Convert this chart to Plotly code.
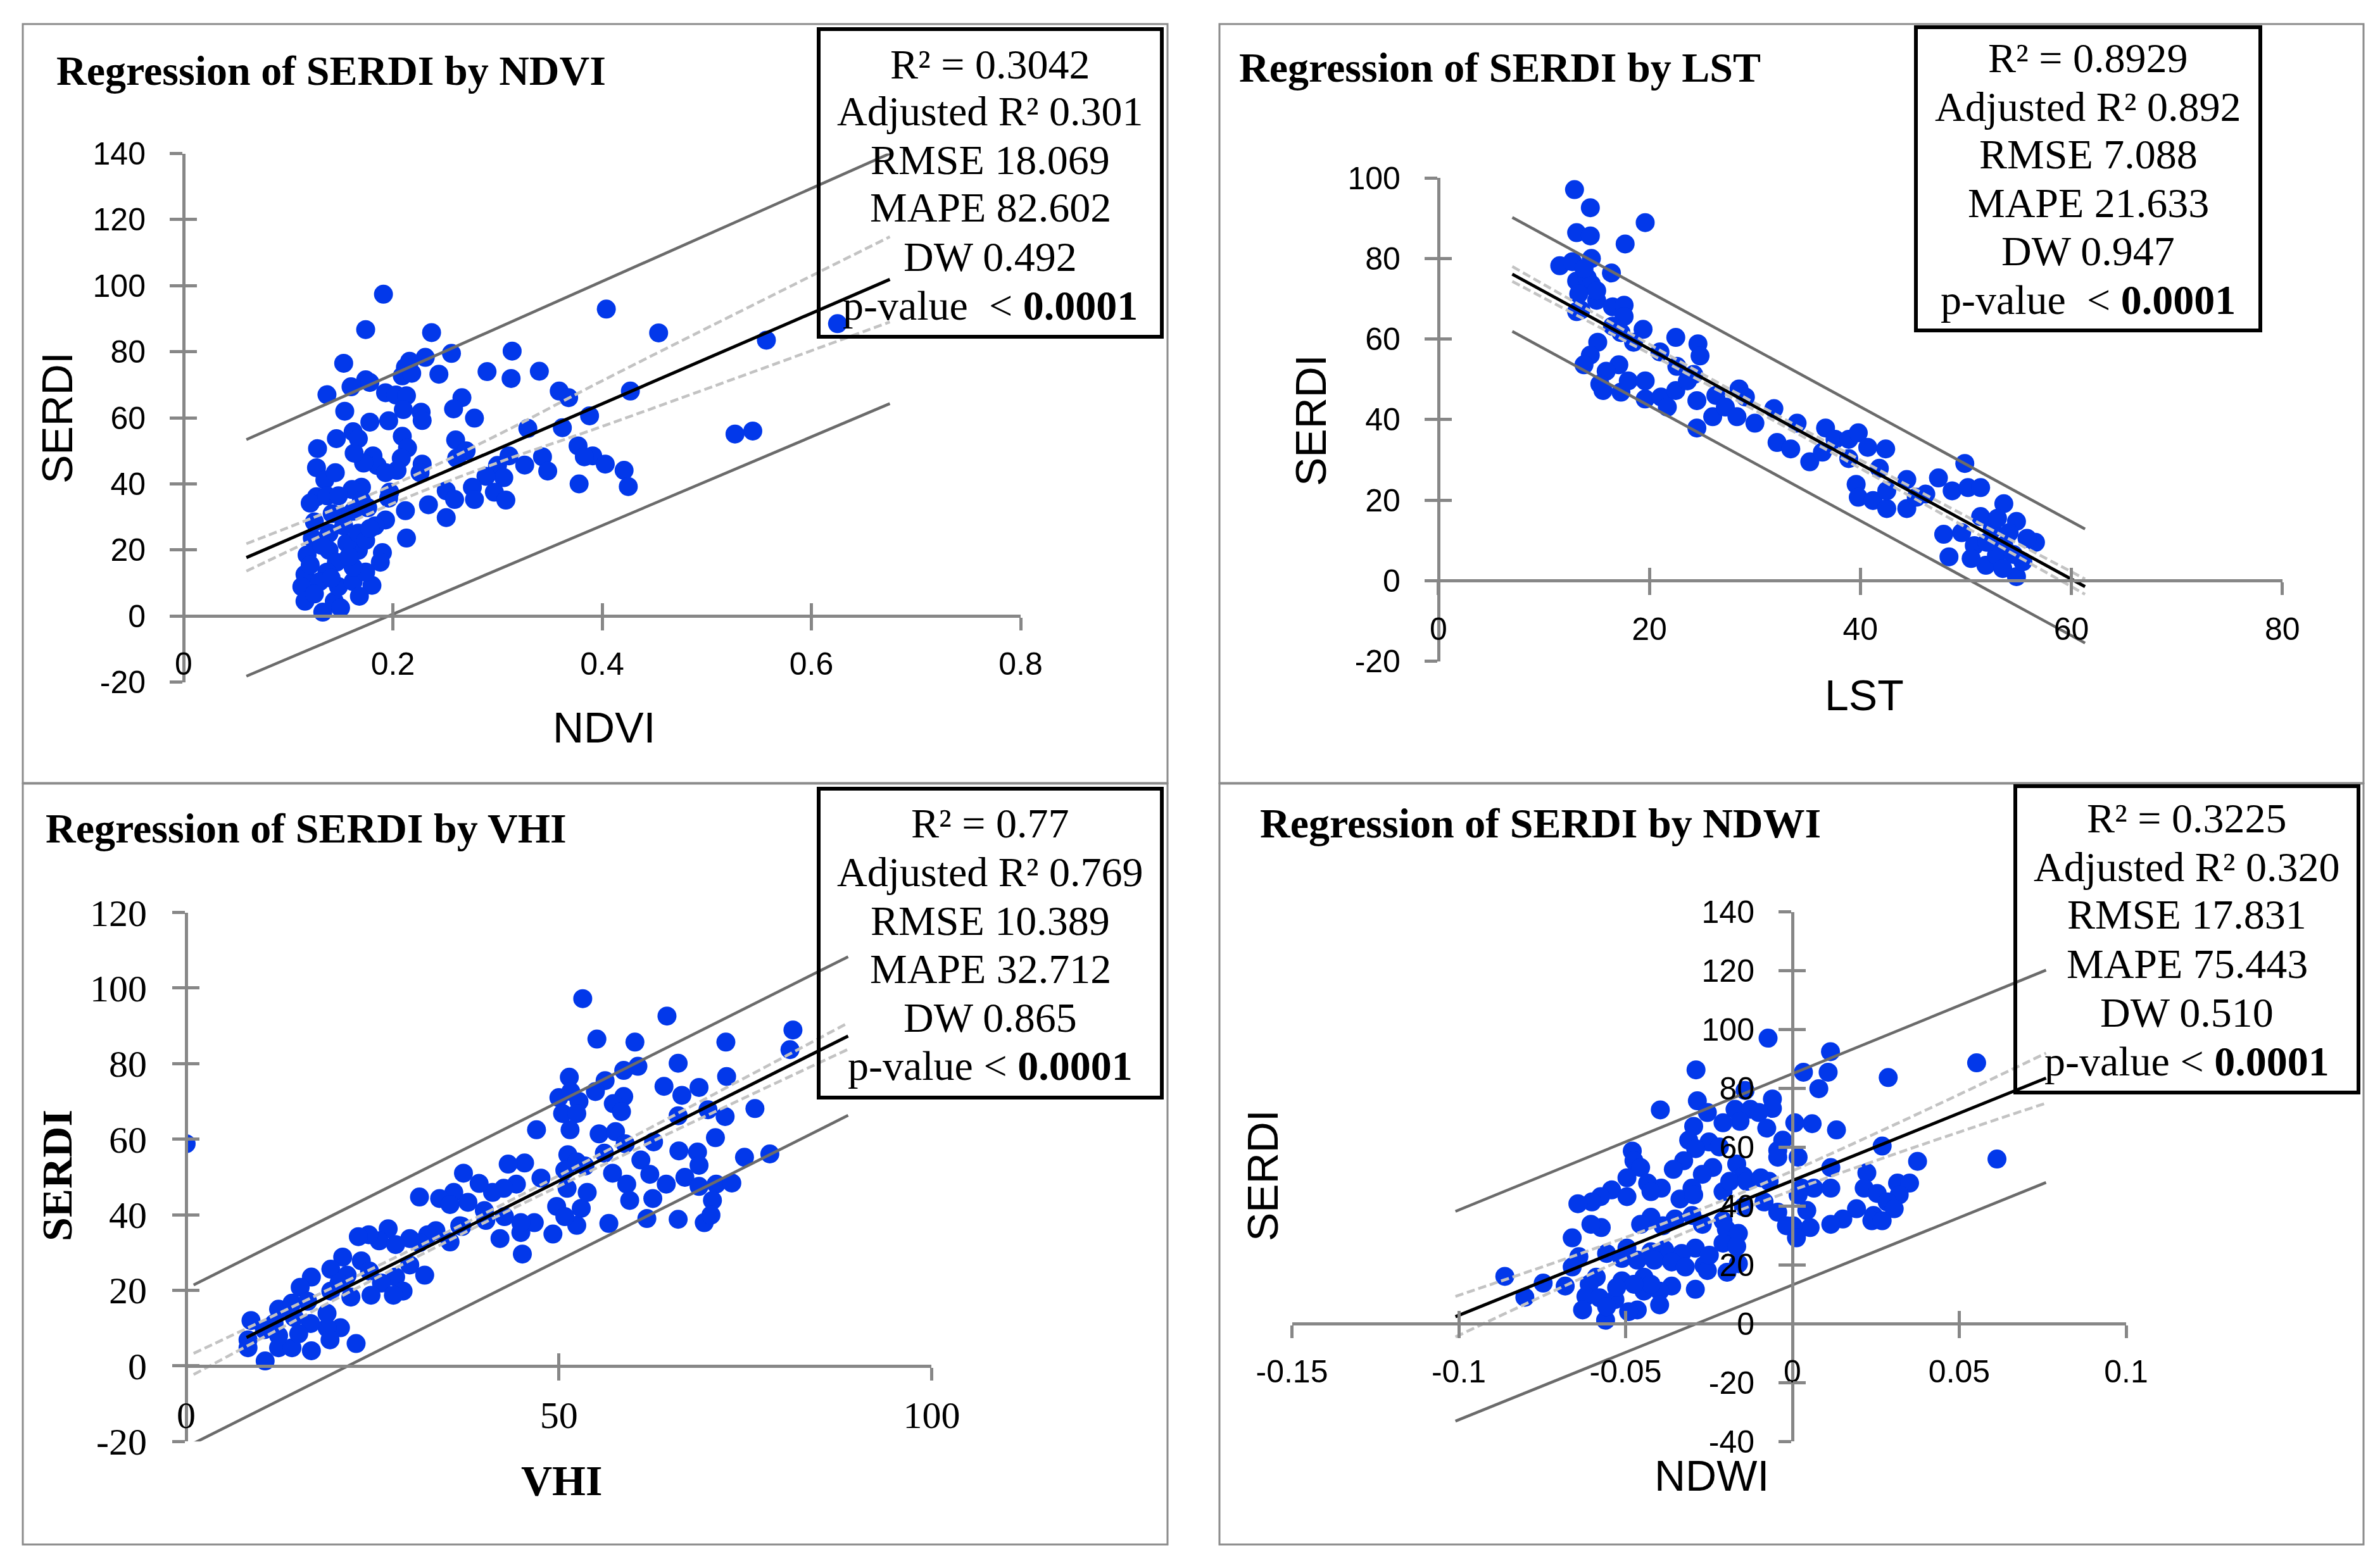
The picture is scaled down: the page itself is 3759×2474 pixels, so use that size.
import plotly.graph_objects as go

W, H = 3759, 2474

# ---- values ----
# SERDI vs NDVI  (x, y)
ndvi_pts = [
    (0.191, 97.4), (0.174, 86.7), (0.237, 85.8), (0.404, 92.9), (0.153, 76.5), (0.256, 79.5),
    (0.231, 78.3), (0.216, 77.1), (0.212, 75.3), (0.209, 72.7), (0.218, 73.5), (0.244, 73.2),
    (0.314, 80.2), (0.290, 74.0), (0.313, 71.9), (0.340, 74.1), (0.137, 67.0), (0.160, 69.4),
    (0.174, 71.5), (0.178, 70.7), (0.193, 67.6), (0.203, 66.9), (0.213, 66.7), (0.210, 62.5),
    (0.227, 61.7), (0.228, 59.2), (0.154, 62.0), (0.178, 58.7), (0.196, 59.1), (0.266, 66.1),
    (0.258, 62.7), (0.278, 59.9), (0.359, 68.1), (0.368, 66.1), (0.427, 68.1), (0.329, 56.8),
    (0.362, 57.0), (0.388, 60.6), (0.162, 55.8), (0.167, 53.7), (0.146, 53.7), (0.128, 50.7),
    (0.209, 54.4), (0.214, 50.9), (0.260, 53.3), (0.270, 50.0), (0.261, 47.8), (0.377, 51.5),
    (0.391, 48.5), (0.383, 48.2), (0.403, 46.0), (0.421, 44.1), (0.425, 39.2), (0.378, 40.0),
    (0.343, 48.2), (0.348, 43.9), (0.326, 45.7), (0.311, 48.5), (0.300, 45.6), (0.306, 41.9),
    (0.289, 42.3), (0.276, 39.0), (0.278, 35.3), (0.297, 37.5), (0.308, 35.1), (0.251, 37.9),
    (0.259, 35.3), (0.234, 33.7), (0.251, 29.8), (0.212, 31.9), (0.213, 23.6), (0.228, 46.0),
    (0.226, 43.4), (0.208, 47.8), (0.204, 44.1), (0.197, 37.5), (0.196, 35.7), (0.181, 48.5),
    (0.185, 45.6), (0.193, 43.4), (0.172, 46.3), (0.163, 49.3), (0.127, 44.9), (0.135, 41.2),
    (0.145, 43.4), (0.170, 39.0), (0.161, 38.3), (0.127, 36.1), (0.121, 34.2), (0.137, 36.4),
    (0.148, 36.4), (0.176, 32.8), (0.193, 29.1), (0.183, 27.3), (0.190, 19.2), (0.188, 16.3),
    (0.180, 9.3), (0.167, 19.9), (0.156, 22.1), (0.123, 23.6), (0.118, 18.5), (0.139, 19.9),
    (0.146, 16.3), (0.137, 13.3), (0.116, 12.6), (0.113, 8.9), (0.116, 4.5), (0.133, 1.2),
    (0.144, 4.5), (0.148, 8.9), (0.162, 10.4), (0.174, 13.3), (0.162, 14.8), (0.130, 10.4),
    (0.125, 6.7), (0.153, 27.3), (0.167, 25.1), (0.174, 22.9), (0.139, 25.1), (0.132, 21.4),
    (0.162, 31.7), (0.153, 30.2), (0.125, 28.5), (0.142, 31.0), (0.170, 35.0), (0.158, 18.0),
    (0.168, 6.0), (0.141, 11.5), (0.178, 26.5), (0.121, 15.5), (0.150, 2.5),
    (0.454, 85.7), (0.527, 55.1), (0.544, 56.0), (0.557, 83.5), (0.625, 88.5),
]

# SERDI vs LST
lst_pts = [
    (12.9, 97.1), (14.4, 92.6), (13.1, 86.4), (14.4, 85.6), (19.6, 88.9), (17.7, 83.6),
    (14.5, 80.0), (11.5, 78.2), (12.7, 79.2), (16.4, 76.4), (13.1, 74.4), (14.1, 75.2),
    (14.5, 73.6), (13.3, 71.2), (15.0, 69.6), (13.5, 67.2), (13.1, 66.8), (16.5, 68.0),
    (17.6, 68.4), (17.6, 65.6), (16.5, 63.2), (17.3, 61.6), (19.4, 62.4), (18.5, 59.2),
    (15.1, 59.2), (14.4, 56.0), (13.8, 53.6), (22.5, 60.4), (24.6, 58.8), (24.8, 55.8),
    (21.0, 56.8), (22.6, 53.2), (24.2, 51.2), (17.1, 53.6), (15.9, 52.0), (15.3, 48.8),
    (15.6, 47.2), (17.3, 46.8), (18.0, 49.6), (19.6, 49.6), (19.6, 45.1), (21.1, 45.6),
    (21.7, 43.1), (22.5, 47.2), (23.6, 49.6), (24.5, 44.7), (24.5, 37.9), (26.0, 40.7),
    (26.3, 46.0), (27.2, 43.1), (28.5, 47.6), (29.1, 45.6), (28.3, 40.7), (30.0, 39.1),
    (31.8, 42.7), (32.1, 34.3), (33.4, 32.7), (34.0, 39.1), (35.2, 29.5), (36.4, 31.9),
    (36.7, 37.9), (37.6, 35.1), (38.9, 35.1), (39.8, 36.7), (40.7, 33.1), (38.9, 30.3),
    (42.4, 32.7), (41.8, 27.9), (39.6, 23.9), (39.8, 20.7), (41.2, 19.9), (42.5, 17.9),
    (44.4, 17.9), (42.5, 22.3), (44.4, 25.1), (45.3, 20.7), (47.4, 25.5), (48.7, 22.3),
    (49.9, 29.1), (50.2, 23.1), (51.4, 23.1), (46.2, 21.5), (47.9, 11.5), (48.4, 5.9),
    (49.6, 11.9), (51.4, 15.9), (50.8, 8.7), (51.9, 3.8), (53.6, 19.1), (54.8, 14.7),
    (53.6, 8.7), (54.8, 1.0), (56.6, 9.5), (55.4, 4.7), (52.5, 12.7), (54.1, 11.9),
    (50.5, 5.5), (52.9, 6.3), (53.0, 15.5), (52.0, 9.5), (54.5, 6.5), (53.5, 3.0),
    (55.8, 10.5), (13.8, 77.5), (15.0, 72.0),
]

# SERDI vs VHI
vhi_pts = [
    (0.0, 58.8), (53.2, 97.2), (64.5, 92.6), (55.1, 86.5), (60.2, 85.7), (72.4, 85.7),
    (81.4, 88.9), (81.0, 83.7), (66.0, 80.1), (60.6, 79.3), (58.7, 78.2), (51.4, 76.4),
    (56.2, 75.5), (54.9, 72.6), (64.1, 74.0), (68.8, 73.7), (72.5, 76.6), (66.5, 71.6),
    (50.0, 71.0), (51.6, 72.6), (52.7, 70.0), (58.7, 71.3), (57.3, 69.4), (58.4, 67.3),
    (50.5, 66.8), (52.4, 66.8), (66.0, 66.2), (70.0, 67.8), (72.3, 66.0), (76.3, 68.1),
    (47.0, 62.5), (51.5, 62.5), (55.4, 61.4), (57.6, 62.0), (58.9, 58.8), (62.7, 59.3),
    (71.0, 60.4), (66.1, 56.9), (68.6, 56.6), (74.9, 55.2), (78.3, 56.1), (56.1, 56.3),
    (51.2, 55.9), (52.4, 54.0), (53.5, 52.9), (50.8, 51.8), (61.0, 54.5), (62.2, 50.7),
    (57.2, 51.0), (66.9, 49.9), (68.8, 53.1), (68.8, 47.5), (64.4, 48.1), (59.1, 48.1),
    (59.5, 43.8), (62.6, 44.3), (71.1, 48.1), (73.2, 48.4), (70.6, 43.8), (61.8, 39.0),
    (66.0, 38.8), (69.5, 37.9), (70.4, 39.9), (56.7, 37.7), (52.4, 37.2), (53.0, 41.7),
    (53.8, 45.9), (51.1, 47.0), (47.6, 49.7), (49.2, 34.9), (49.7, 42.2), (50.8, 39.5),
    (45.1, 29.6), (44.9, 35.3), (46.7, 37.9), (45.4, 53.7), (43.2, 53.4), (44.3, 48.1),
    (42.6, 47.0), (41.1, 45.9), (39.3, 48.3), (37.2, 51.0), (35.9, 45.9), (34.0, 44.3),
    (31.3, 44.7), (35.4, 42.7), (37.8, 43.3), (40.0, 41.1), (40.2, 38.5), (42.7, 39.5),
    (42.1, 33.7), (44.9, 37.9), (36.7, 37.1), (35.4, 32.8), (33.5, 35.8), (32.4, 34.7),
    (31.3, 32.6), (30.0, 33.7), (27.1, 36.3), (25.9, 33.1), (24.5, 34.7), (23.1, 34.2),
    (28.1, 32.1), (30.0, 26.7), (32.0, 24.0), (21.0, 28.8), (23.5, 27.8), (19.4, 25.6),
    (21.6, 24.0), (24.6, 25.1), (28.1, 23.5), (26.2, 21.9), (29.1, 19.8), (27.8, 18.7),
    (24.8, 18.7), (22.1, 18.2), (19.4, 19.8), (20.5, 21.9), (16.8, 23.5), (15.3, 20.8),
    (12.4, 15.0), (14.2, 16.6), (16.3, 17.1), (18.9, 13.9), (20.7, 10.1), (18.9, 10.1),
    (16.7, 11.2), (14.5, 12.8), (11.8, 11.2), (8.7, 12.0), (10.5, 9.6), (8.3, 6.9),
    (8.3, 4.8), (12.4, 4.8), (14.2, 4.8), (16.8, 4.0), (19.3, 6.9), (22.8, 5.9),
    (10.6, 1.3), (12.4, 8.0), (15.1, 8.5), (37.0, 36.9),
]

# SERDI vs NDWI
ndwi_pts = [
    (-0.0073, 97.1), (0.0114, 92.5), (0.0552, 88.7), (-0.0289, 86.3), (0.0033, 85.5), (0.0107, 85.5),
    (0.0287, 83.7), (0.0079, 79.9), (-0.0142, 79.3), (-0.0060, 76.4), (-0.0285, 75.8), (-0.0396, 72.7),
    (-0.0172, 72.9), (-0.0126, 72.9), (-0.0060, 73.2), (-0.0255, 71.8), (-0.0101, 71.8), (-0.0157, 68.8),
    (-0.0208, 68.3), (-0.0296, 67.1), (0.0007, 68.3), (0.0059, 68.0), (0.0132, 65.9), (-0.0077, 66.5),
    (-0.0029, 62.4), (-0.0250, 61.8), (-0.0311, 62.4), (-0.0290, 59.5), (-0.0219, 60.1), (-0.0044, 58.9),
    (0.0017, 56.6), (-0.0044, 56.6), (0.0269, 60.4), (0.0613, 56.0), (0.0375, 55.2), (-0.0480, 58.7),
    (-0.0475, 55.4), (-0.0326, 55.4), (-0.0357, 52.5), (-0.0455, 53.1), (-0.0239, 53.1), (-0.0270, 50.8),
    (-0.0167, 54.3), (-0.0147, 50.2), (0.0115, 53.1), (0.0223, 51.3), (-0.0496, 49.6), (-0.0434, 47.8),
    (-0.0393, 46.1), (-0.0542, 45.5), (-0.0575, 43.2), (-0.0601, 41.4), (-0.0643, 40.8), (-0.0496, 43.2),
    (-0.0424, 44.9), (-0.0337, 42.4), (-0.0301, 46.1), (-0.0296, 43.8), (-0.0208, 44.9), (-0.0188, 48.4),
    (-0.0137, 48.4), (-0.0095, 49.6), (-0.0070, 48.4), (-0.0085, 41.4), (-0.0147, 39.7), (-0.0044, 37.9),
    (0.0028, 46.1), (0.0064, 46.1), (0.0017, 43.8), (0.0115, 46.1), (0.0215, 46.1), (0.0254, 44.3),
    (0.0315, 47.8), (0.0351, 47.8), (0.0320, 43.8), (0.0284, 41.4), (0.0192, 39.1), (0.0305, 39.1),
    (0.0243, 36.8), (0.0238, 35.0), (0.0269, 35.0), (0.0151, 35.6), (0.0115, 33.8), (0.0043, 38.5),
    (0.0053, 32.7), (0.0002, 33.3), (-0.0018, 33.3), (0.0012, 29.2), (-0.0301, 36.8), (-0.0270, 33.8),
    (-0.0352, 35.6), (-0.0388, 33.3), (-0.0424, 36.2), (-0.0455, 33.8), (-0.0573, 32.7), (-0.0604, 33.8),
    (-0.0660, 29.2), (-0.0208, 35.0), (-0.0198, 32.1), (-0.0162, 30.7), (-0.0208, 27.4), (-0.0167, 26.3),
    (-0.0291, 25.7), (-0.0332, 23.9), (-0.0383, 25.1), (-0.0424, 24.5), (-0.0496, 25.7), (-0.0557, 23.9),
    (-0.0640, 22.8), (-0.0660, 19.3), (-0.0511, 22.2), (-0.0465, 21.6), (-0.0414, 21.6), (-0.0362, 21.0),
    (-0.0321, 19.3), (-0.0265, 19.8), (-0.0255, 18.1), (-0.0196, 17.5), (-0.0162, 20.4), (-0.0249, 23.3),
    (-0.0291, 11.7), (-0.0362, 12.8), (-0.0398, 11.1), (-0.0398, 6.4), (-0.0445, 11.1), (-0.0465, 4.7),
    (-0.0491, 4.1), (-0.0532, 8.2), (-0.0511, 14.6), (-0.0445, 15.8), (-0.0424, 13.4), (-0.0475, 13.4),
    (-0.0588, 15.8), (-0.0609, 13.4), (-0.0619, 9.3), (-0.0629, 4.7), (-0.0578, 8.8), (-0.0560, 1.2),
    (-0.0557, 5.8), (-0.0527, 12.3), (-0.0681, 12.8), (-0.0747, 13.8), (-0.0802, 9.0), (-0.0862, 16.1),
]

# fitted lines, prediction bands (solid grey) and confidence bands (dashed)
ndvi_fit_x = [0.06, 0.675]
ndvi_fit_y = [17.7, 101.9]
ndvi_pi_hi = [53.4, 140.0]
ndvi_pi_lo = [-18.2, 64.3]
ndvi_ci_x = [0.06, 0.2, 0.3, 0.4, 0.675]
ndvi_ci_hi = [21.9, 39.7, 54.8, 71.2, 114.8]
ndvi_ci_lo = [13.6, 34.1, 46.4, 57.4, 89.0]

lst_fit_x = [7.0, 61.3]
lst_fit_y = [76.1, -1.5]
lst_pi_hi = [90.2, 12.8]
lst_pi_lo = [61.9, -15.5]
lst_ci_x = [7.0, 30.0, 61.3]
lst_ci_hi = [78.0, 44.1, 0.4]
lst_ci_lo = [74.3, 42.3, -3.4]

vhi_fit_x = [8.1, 88.8]
vhi_fit_y = [7.5, 87.3]
vhi_band_x = [1.0, 88.8]
vhi_pi_hi = [21.4, 108.3]
vhi_pi_lo = [-20.5, 66.3]
vhi_ci_x = [1.0, 40.0, 88.8]
vhi_ci_hi = [3.3, 40.3, 90.8]
vhi_ci_lo = [-2.3, 37.9, 83.8]

ndwi_fit_x = [-0.101, 0.076]
ndwi_fit_y = [2.4, 83.5]
ndwi_pi_hi = [38.2, 120.2]
ndwi_pi_lo = [-33.1, 48.0]
ndwi_ci_x = [-0.101, -0.02, 0.076]
ndwi_ci_hi = [9.3, 42.3, 92.0]
ndwi_ci_lo = [-4.5, 36.7, 75.0]

# tick values and labels
ndvi_xt = [0, 0.2, 0.4, 0.6, 0.8]
ndvi_xl = ["0", "0.2", "0.4", "0.6", "0.8"]
ndvi_yt = [-20, 0, 20, 40, 60, 80, 100, 120, 140]
ndvi_yl = ["-20", "0", "20", "40", "60", "80", "100", "120", "140"]
lst_xt = [0, 20, 40, 60, 80]
lst_xl = ["0", "20", "40", "60", "80"]
lst_yt = [-20, 0, 20, 40, 60, 80, 100]
lst_yl = ["-20", "0", "20", "40", "60", "80", "100"]
vhi_xt = [0, 50, 100]
vhi_xl = ["0", "50", "100"]
vhi_yt = [-20, 0, 20, 40, 60, 80, 100, 120]
vhi_yl = ["-20", "0", "20", "40", "60", "80", "100", "120"]
ndwi_xt = [-0.15, -0.1, -0.05, 0, 0.05, 0.1]
ndwi_xl = ["-0.15", "-0.1", "-0.05", "0", "0.05", "0.1"]
ndwi_yt = [-40, -20, 0, 20, 40, 60, 80, 100, 120, 140]
ndwi_yl = ["-40", "-20", "0", "20", "40", "60", "80", "100", "120", "140"]

titles = ["Regression of SERDI by NDVI", "Regression of SERDI by LST",
          "Regression of SERDI by VHI", "Regression of SERDI by NDWI"]
x_titles = ["NDVI", "LST", "<b>VHI</b>", "NDWI"]
y_titles = ["SERDI", "SERDI", "<b>SERDI</b>", "SERDI"]
stats = [
    ["R² = 0.3042", "Adjusted R² 0.301", "RMSE 18.069", "MAPE 82.602", "DW 0.492",
     "p-value\u00a0 < <b>0.0001</b>"],
    ["R² = 0.8929", "Adjusted R² 0.892", "RMSE 7.088", "MAPE 21.633", "DW 0.947",
     "p-value\u00a0 < <b>0.0001</b>"],
    ["R² = 0.77", "Adjusted R² 0.769", "RMSE 10.389", "MAPE 32.712", "DW 0.865",
     "p-value < <b>0.0001</b>"],
    ["R² = 0.3225", "Adjusted R² 0.320", "RMSE 17.831", "MAPE 75.443", "DW 0.510",
     "p-value < <b>0.0001</b>"],
]

# ---- styling ----
BLUE = "#0238EA"
AXIS = "#878787"
PI_COL = "#6b6b6b"
CI_COL = "#c3c3c3"
SANS = "Liberation Sans"
SERIF = "Liberation Serif"


def fx(p):
    return p / W


def fy(p):
    return 1 - p / H


# pixel placement of each panel: x range ends, y range ends (bottom, top)
panels = [
    dict(pts=ndvi_pts, xr=[0, 0.8], yr=[-20, 140], xpx=[290, 1612], ypx=[1077.7, 242.5],
         xt=ndvi_xt, xl=ndvi_xl, yt=ndvi_yt, yl=ndvi_yl,
         fit=(ndvi_fit_x, ndvi_fit_y), band=(ndvi_fit_x, ndvi_pi_hi, ndvi_pi_lo),
         ci=(ndvi_ci_x, ndvi_ci_hi, ndvi_ci_lo), font=SANS, tsize=50, xstand=10,
         border=[36, 38, 1844, 1237], box=[1293, 46, 1835, 532],
         lines_y=[101, 176, 253, 328, 405, 482],
         title_xy=(87, 111), xt_xy=(954, 1149), yt_xy=(90, 660), tfont=SANS),
    dict(pts=lst_pts, xr=[0, 80], yr=[-20, 100], xpx=[2271.9, 3604.7], ypx=[1044.5, 281.1],
         xt=lst_xt, xl=lst_xl, yt=lst_yt, yl=lst_yl,
         fit=(lst_fit_x, lst_fit_y), band=(lst_fit_x, lst_pi_hi, lst_pi_lo),
         ci=(lst_ci_x, lst_ci_hi, lst_ci_lo), font=SANS, tsize=50, xstand=11,
         border=[1926, 38, 3733, 1237], box=[3026, 43, 3570, 522],
         lines_y=[91, 168, 244, 320, 396, 473],
         title_xy=(1955, 107), xt_xy=(2944, 1098), yt_xy=(2070, 664), tfont=SANS),
    dict(pts=vhi_pts, xr=[0, 100], yr=[-20, 120], xpx=[294, 1471.4], ypx=[2277.2, 1441.6],
         xt=vhi_xt, xl=vhi_xl, yt=vhi_yt, yl=vhi_yl,
         fit=(vhi_fit_x, vhi_fit_y), band=(vhi_band_x, vhi_pi_hi, vhi_pi_lo),
         ci=(vhi_ci_x, vhi_ci_hi, vhi_ci_lo), font=SERIF, tsize=60, xstand=3,
         border=[36, 1238, 1844, 2440], box=[1293, 1246, 1835, 1734],
         lines_y=[1300, 1377, 1454, 1530, 1607, 1684],
         title_xy=(70, 1308), xt_xy=(887, 2339), yt_xy=(90, 1857), tfont=SERIF),
    dict(pts=ndwi_pts, xr=[-0.15, 0.1], yr=[-40, 140], xpx=[2040.5, 3358], ypx=[2277.1, 1440.7],
         xt=ndwi_xt, xl=ndwi_xl, yt=ndwi_yt, yl=ndwi_yl,
         fit=(ndwi_fit_x, ndwi_fit_y), band=(ndwi_fit_x, ndwi_pi_hi, ndwi_pi_lo),
         ci=(ndwi_ci_x, ndwi_ci_hi, ndwi_ci_lo), font=SANS, tsize=50, xstand=10,
         border=[1926, 1238, 3733, 2440], box=[3183, 1242, 3725, 1726],
         lines_y=[1292, 1369, 1444, 1522, 1599, 1676],
         title_xy=(1988, 1301), xt_xy=(2703, 2331), yt_xy=(1994, 1857), tfont=SANS),
]

fig = go.Figure()
layout = {}
shapes = []
annotations = []

for i, p in enumerate(panels, start=1):
    xa, ya = f"x{i}", f"y{i}"
    xd = [fx(p["xpx"][0]), fx(p["xpx"][1])]
    yd = [fy(p["ypx"][0]), fy(p["ypx"][1])]
    # axes cross at zero
    xpos = yd[0] + (0 - p["yr"][0]) / (p["yr"][1] - p["yr"][0]) * (yd[1] - yd[0])
    ypos = xd[0] + (0 - p["xr"][0]) / (p["xr"][1] - p["xr"][0]) * (xd[1] - xd[0])
    tf = dict(family=p["font"], size=p["tsize"], color="black")
    common = dict(showgrid=False, zeroline=False, tickmode="array", automargin=False,
                  ticklen=20, tickwidth=5, tickcolor=AXIS)
    layout[f"xaxis{i}"] = dict(domain=xd, range=p["xr"], anchor="free", position=xpos,
                               tickvals=p["xt"], ticktext=p["xl"], ticks="outside",
                               showline=True, linecolor=AXIS, linewidth=5,
                               tickfont=tf, ticklabelstandoff=p["xstand"], **common)
    layout[f"yaxis{i}"] = dict(domain=yd, range=p["yr"], anchor="free", position=ypos,
                               tickvals=p["yt"], ticktext=p["yl"], ticks="outside",
                               showline=True, linecolor=AXIS, linewidth=5,
                               tickfont=tf, ticklabelstandoff=28, **common)
    # second set of ticks pointing the other way, so ticks cross the axis
    j = i + 4
    layout[f"xaxis{j}"] = dict(overlaying=f"x{i}", range=p["xr"], anchor="free", position=xpos,
                               tickvals=p["xt"], ticks="inside", showticklabels=False,
                               showline=False, **common)
    layout[f"yaxis{j}"] = dict(overlaying=f"y{i}", range=p["yr"], anchor="free", position=ypos,
                               tickvals=p["yt"], ticks="inside", showticklabels=False,
                               showline=False, **common)
    fig.add_trace(go.Scatter(x=[], y=[], xaxis=f"x{j}", yaxis=f"y{j}",
                             showlegend=False, hoverinfo="skip"))

    px_, py_ = zip(*p["pts"])
    fig.add_trace(go.Scatter(x=list(px_), y=list(py_), mode="markers", xaxis=xa, yaxis=ya,
                             marker=dict(color=BLUE, size=30, line=dict(width=0)),
                             showlegend=False))
    bx, bhi, blo = p["band"]
    for yy in (bhi, blo):
        fig.add_trace(go.Scatter(x=bx, y=yy, mode="lines", xaxis=xa, yaxis=ya,
                                 line=dict(color=PI_COL, width=4.5), showlegend=False))
    cx, chi, clo = p["ci"]
    for yy in (chi, clo):
        fig.add_trace(go.Scatter(x=cx, y=yy, mode="lines", xaxis=xa, yaxis=ya,
                                 line=dict(color=CI_COL, width=4.5, dash="13px,6px",
                                           shape="spline"),
                                 showlegend=False))
    fx_, fy_ = p["fit"]
    fig.add_trace(go.Scatter(x=fx_, y=fy_, mode="lines", xaxis=xa, yaxis=ya,
                             line=dict(color="black", width=5), showlegend=False))

    # panel frame and statistics box
    b = p["border"]
    shapes.append(dict(type="rect", xref="paper", yref="paper", x0=fx(b[0]), x1=fx(b[2]),
                       y0=fy(b[3]), y1=fy(b[1]), line=dict(color="#8c8c8c", width=3)))
    bb = p["box"]
    shapes.append(dict(type="rect", xref="paper", yref="paper", x0=fx(bb[0]), x1=fx(bb[2]),
                       y0=fy(bb[3]), y1=fy(bb[1]), line=dict(color="black", width=6)))
    cxp = (bb[0] + bb[2]) / 2
    for txt, ly in zip(stats[i - 1], p["lines_y"]):
        annotations.append(dict(text=txt, x=fx(cxp), y=fy(ly), xref="paper", yref="paper",
                                xanchor="center", yanchor="middle", showarrow=False,
                                font=dict(family=SERIF, size=66, color="black")))
    tx, ty = p["title_xy"]
    annotations.append(dict(text=f"<b>{titles[i - 1]}</b>", x=fx(tx), y=fy(ty),
                            xref="paper", yref="paper", xanchor="left", yanchor="middle",
                            showarrow=False, font=dict(family=SERIF, size=66, color="black")))
    ax_, ay_ = p["xt_xy"]
    annotations.append(dict(text=x_titles[i - 1], x=fx(ax_), y=fy(ay_), xref="paper",
                            yref="paper", xanchor="center", yanchor="middle", showarrow=False,
                            font=dict(family=p["tfont"], size=68, color="black")))
    yx_, yy_ = p["yt_xy"]
    annotations.append(dict(text=y_titles[i - 1], x=fx(yx_), y=fy(yy_), xref="paper",
                            yref="paper", xanchor="center", yanchor="middle", showarrow=False,
                            textangle=-90,
                            font=dict(family=p["tfont"], size=68, color="black")))

fig.update_layout(
    width=W, height=H,
    margin=dict(l=0, r=0, t=0, b=0, autoexpand=False),
    paper_bgcolor="white", plot_bgcolor="rgba(0,0,0,0)",
    showlegend=False,
    shapes=shapes, annotations=annotations,
    **layout,
)

fig.write_html("out.html", config={"displayModeBar": False},
               post_script="document.body.style.margin='0px';")
